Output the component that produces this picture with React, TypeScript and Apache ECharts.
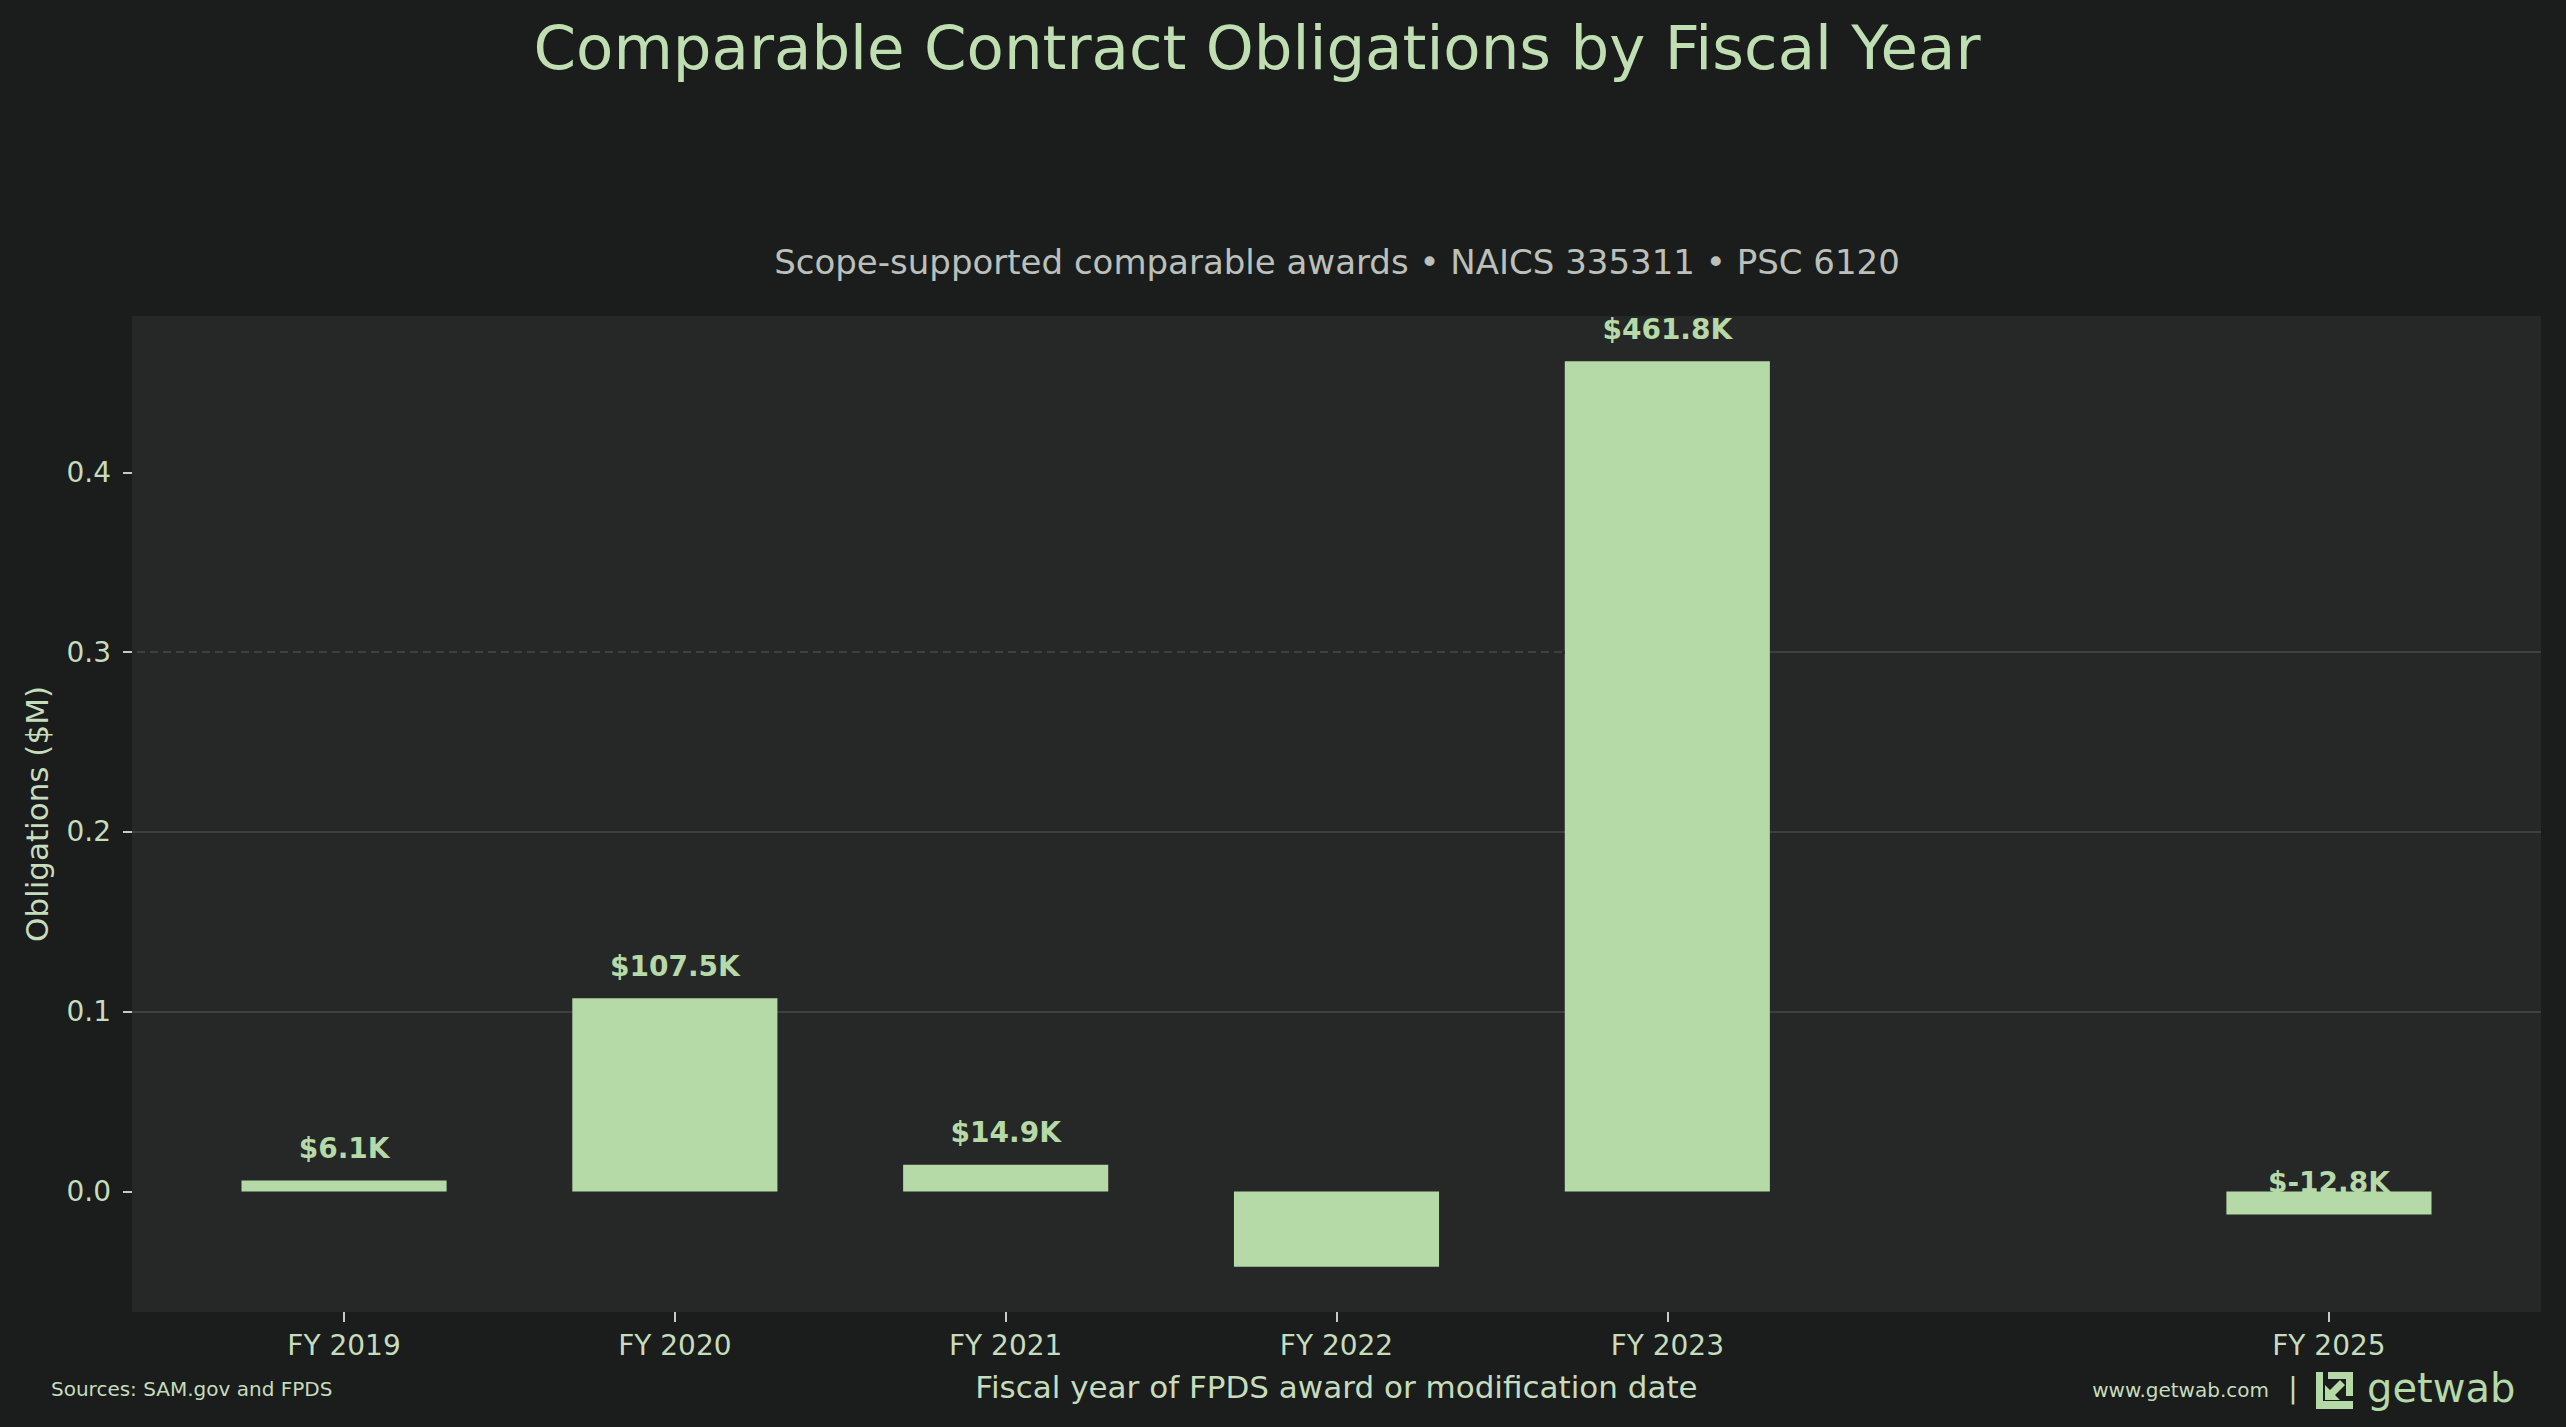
import * as echarts from "echarts"
import { useEffect, useRef } from "react"

// fiscal years on a numeric axis (FY 2024 has no awards, so it is left out)
const years = [2019, 2020, 2021, 2022, 2023, 2025]
// obligations in $M
const obligations = [0.0061, 0.1075, 0.0149, -0.0418, 0.4618, -0.0128]
const yTicks = [0, 0.1, 0.2, 0.3, 0.4]

const BAR_W = 0.62
const LABEL_PAD = 0.01
const X_MIN = 2018.359
const X_MAX = 2025.641
const Y_MIN = -0.067
const Y_MAX = 0.487

const FONT = "DejaVu Sans"
const PAGE_BG = "#1a1d1c"
const PLOT_BG = "#252826"
const BAR = "#b6d9a8"
const GRID = "#3c413d"
const TEXT = "#c6dcbd"
const TITLE = "#bfdeb1"
const SUB = "#bcc0bb"

const LOGO_D =
  "M0 0H7V29H37V37H0Z M12 0H37V24H30V7H12Z M9 13V28H24L19 23L29 13L24 8L14 18Z"
echarts.graphic.registerShape("logo", echarts.graphic.extendPath(LOGO_D, {}))

const fmtK = (v: number) => `$${(v * 1000).toFixed(1)}K`

export default function App() {
  const ref = useRef<HTMLDivElement>(null)

  useEffect(() => {
    if (!ref.current) return
    document.body.style.margin = "0"
    const chart = echarts.init(ref.current, null, { renderer: "svg" })
    chart.setOption({
      animation: false,
      backgroundColor: PAGE_BG,
      textStyle: { fontFamily: FONT },
      title: [
        {
          text: "Comparable Contract Obligations by Fiscal Year",
          left: 1257,
          top: 17,
          padding: 0,
          textAlign: "center",
          textStyle: { color: TITLE, fontSize: 61, fontWeight: "normal", fontFamily: FONT },
        },
        {
          text: "Scope-supported comparable awards • NAICS 335311 • PSC 6120",
          left: 1337,
          top: 245,
          padding: 0,
          textAlign: "center",
          textStyle: { color: SUB, fontSize: 34, fontWeight: "normal", fontFamily: FONT },
        },
      ],
      grid: {
        left: 132,
        right: 25,
        top: 316,
        bottom: 115,
        show: true,
        backgroundColor: PLOT_BG,
        borderWidth: 0,
      },
      xAxis: {
        type: "value",
        min: X_MIN,
        max: X_MAX,
        name: "Fiscal year of FPDS award or modification date",
        nameLocation: "middle",
        nameGap: 59,
        nameTextStyle: { color: TEXT, fontSize: 31, fontFamily: FONT },
        axisLine: { show: false, onZero: false },
        axisTick: {
          show: true,
          customValues: years,
          length: 10,
          lineStyle: { color: "#c4cbc1", width: 2 },
        },
        axisLabel: {
          customValues: years,
          formatter: (v: number) => `FY ${v}`,
          color: TEXT,
          fontSize: 28,
          fontFamily: FONT,
          margin: 19,
        },
        splitLine: { show: false },
      },
      yAxis: {
        type: "value",
        min: Y_MIN,
        max: Y_MAX,
        name: "Obligations ($M)",
        nameLocation: "middle",
        nameGap: 80,
        nameTextStyle: { color: TEXT, fontSize: 31, fontFamily: FONT },
        axisLine: { show: false, onZero: false },
        axisTick: {
          show: true,
          customValues: yTicks,
          length: 9,
          lineStyle: { color: "#c4cbc1", width: 2 },
        },
        axisLabel: {
          customValues: yTicks,
          formatter: (v: number) => v.toFixed(1),
          color: TEXT,
          fontSize: 28,
          fontFamily: FONT,
          margin: 21,
        },
        splitLine: {
          show: true,
          showMinLine: false,
          showMaxLine: false,
          lineStyle: { color: GRID, width: 2 },
        },
      },
      series: [
        {
          type: "custom",
          data: years.map((y, i) => [y, obligations[i]]),
          encode: { x: 0, y: 1 },
          renderItem: (_params: any, api: any) => {
            const x = api.value(0)
            const v = api.value(1)
            const a = api.coord([x - BAR_W / 2, v])
            const b = api.coord([x + BAR_W / 2, 0])
            const t = api.coord([x, v + LABEL_PAD])
            return {
              type: "group",
              children: [
                {
                  type: "rect",
                  shape: {
                    x: a[0],
                    y: Math.min(a[1], b[1]),
                    width: b[0] - a[0],
                    height: Math.abs(b[1] - a[1]),
                  },
                  style: { fill: BAR },
                },
                {
                  type: "text",
                  x: t[0],
                  y: t[1],
                  style: {
                    text: fmtK(v),
                    fill: BAR,
                    fontSize: 28,
                    fontWeight: "bold",
                    fontFamily: FONT,
                    align: "center",
                    verticalAlign: "bottom",
                  },
                },
              ],
            }
          },
          markLine: {
            silent: true,
            symbol: "none",
            label: { show: false },
            lineStyle: { color: PLOT_BG, type: [5, 8], width: 3 },
            data: [[{ coord: [X_MIN, 0.3] }, { coord: [years[4] - BAR_W / 2, 0.3] }]],
          },
        },
      ],
      graphic: [
        {
          type: "text",
          x: 51,
          y: 1389,
          style: {
            text: "Sources: SAM.gov and FPDS",
            fill: TEXT,
            fontSize: 20,
            fontFamily: FONT,
            verticalAlign: "middle",
          },
        },
        {
          type: "text",
          x: 2269,
          y: 1390,
          style: {
            text: "www.getwab.com",
            fill: TEXT,
            fontSize: 20,
            fontFamily: FONT,
            align: "right",
            verticalAlign: "middle",
          },
        },
        {
          type: "text",
          x: 2293,
          y: 1388,
          style: {
            text: "|",
            fill: TEXT,
            fontSize: 28,
            fontFamily: FONT,
            align: "center",
            verticalAlign: "middle",
          },
        },
        { type: "logo", x: 2316, y: 1372, style: { fill: BAR } },
        {
          type: "text",
          x: 2367,
          y: 1388,
          style: {
            text: "getwab",
            fill: BAR,
            fontSize: 40,
            fontFamily: FONT,
            verticalAlign: "middle",
          },
        },
      ],
    })
    return () => chart.dispose()
  }, [])

  return <div ref={ref} style={{ width: 2566, height: 1427 }} />
}
